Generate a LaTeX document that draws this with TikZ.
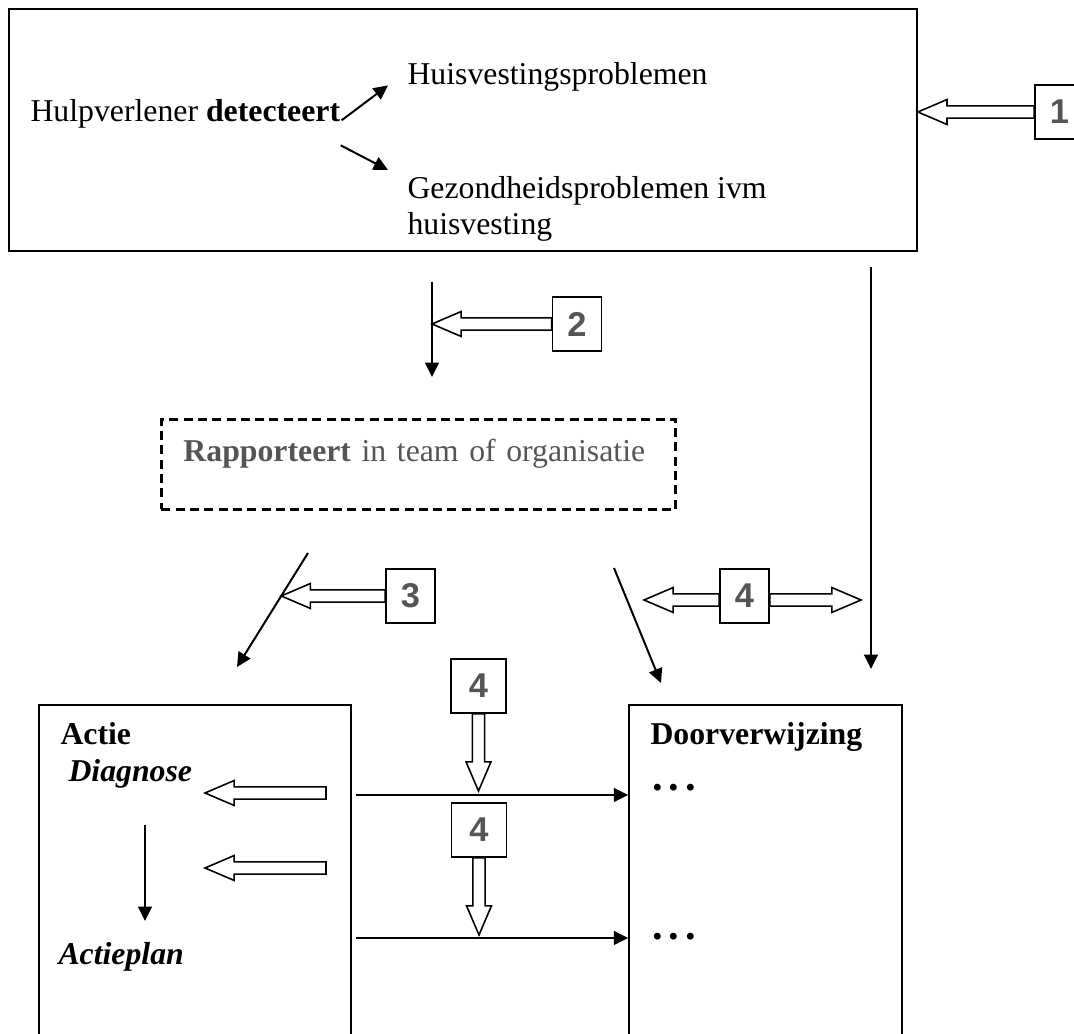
\documentclass[tikz,border=0pt]{standalone}
\usepackage{fontspec}
\setmainfont{Liberation Serif}
\setsansfont{Liberation Sans}
\usepackage{xcolor}
\usepackage{tikz}
\usetikzlibrary{positioning,arrows.meta,calc}

\definecolor{grijs}{HTML}{555555}
\newcommand{\holschacht}{2.3pt}
\newcommand{\holkop}{4.7pt}
\newcommand{\hollengte}{11pt}
\newcommand{\puntjes}{\textbf{\fontsize{16}{16}\selectfont.\kern2.2pt.\kern2.2pt.}}

\begin{document}
\begin{tikzpicture}[
  x=0.3777pt, y=-0.3777pt,
  >={Triangle[length=5.4pt,width=5.2pt]},
  tekst/.style={font=\fontsize{12}{13.4}\selectfont, inner sep=0pt},
  vak/.style={draw, line width=0.6pt, inner sep=0pt},
  nummer/.style={draw, line width=0.6pt, fill=white, minimum width=18.5pt, minimum height=20.4pt, inner sep=0pt,
      font=\sffamily\bfseries\fontsize{13}{13}\selectfont, text=grijs},
  pijl/.style={->, line width=0.75pt},
  hol/.style={line width=0.6pt, to path={
      -- ($(\tikztostart)!\holschacht!90:(\tikztotarget)$)
      -- ($(\tikztotarget)!\hollengte!(\tikztostart)!\holschacht!90:(\tikztotarget)$)
      -- ($(\tikztotarget)!\hollengte!(\tikztostart)!\holkop!90:(\tikztotarget)$)
      -- (\tikztotarget)
      -- ($(\tikztotarget)!\hollengte!(\tikztostart)!\holkop!-90:(\tikztotarget)$)
      -- ($(\tikztotarget)!\hollengte!(\tikztostart)!\holschacht!-90:(\tikztotarget)$)
      -- ($(\tikztostart)!\holschacht!-90:(\tikztotarget)$) -- cycle}},
]
  \useasboundingbox (0,0) rectangle (1074,1034);
  \clip (0,0) rectangle (1074,1034);

  % detectie
  \node (top-vak)[vak, minimum width=343pt, minimum height=91.4pt] at (463,130) {};
  \node (hulp)[tekst, anchor=base west] at (30,122) {Hulpverlener \textbf{detecteert}};
  \node (huis)[tekst, anchor=base west] at (407,85) {Huisvestingsproblemen};
  \node (gezond)[tekst, anchor=north west, align=left] at (407,176) {Gezondheidsproblemen ivm\\huisvesting};
  \draw[pijl] ([shift={(1,6)}]hulp.east) -- ([shift={(-19,8)}]huis.west);
  \draw[pijl] ([shift={(0,16)}]hulp.south east) -- ([shift={(-19,-6)}]gezond.north west);

  \node (nr-1)[nummer] at (1059.5,112) {1};
  \draw[hol] (nr-1.west) to (nr-1.west -| top-vak.east);

  % rapportering
  \node (rapport)[tekst, draw, line width=1.1pt, dash pattern=on 3.4pt off 2pt, anchor=north west, text=grijs,
      inner xsep=8.3pt, text height=15.9pt, text depth=18.1pt, text width=177.5pt, align=left] at (160,418)
      {\textbf{Rapporteert} in team of organisatie};
  \coordinate (k2) at (432,324);
  \draw[pijl, shorten <=11.3pt, shorten >=15.5pt] (top-vak.south -| k2) -- (rapport.north -| k2);
  \node (nr-2)[nummer] at (577,324) {2};
  \draw[hol] (nr-2.west) to (k2);

  \coordinate (rechts) at (871,669);
  \draw[pijl, shorten <=5.7pt] (top-vak.south -| rechts) -- (rechts);

  % naar actie en doorverwijzing
  \coordinate (s3a) at (308,553);
  \coordinate (s3b) at (237,667);
  \draw[pijl] (s3a) -- (s3b);
  \coordinate (k3) at ($(s3a)!0.377!(s3b)$);
  \node (nr-3)[nummer] at (410.5,596) {3};
  \draw[hol] (nr-3.west) to (k3);

  \coordinate (s4a) at (614,568);
  \coordinate (s4b) at (661,683);
  \draw[pijl] (s4a) -- (s4b);
  \node (nr-4c)[nummer] at (744.5,596) {4};
  \coordinate (k4l) at (644,600);
  \coordinate (k4r) at (861,600);
  \draw[hol] ([yshift=-1.5pt]nr-4c.west) to (k4l);
  \draw[hol] ([yshift=-1.5pt]nr-4c.east) to (k4r);

  % actie
  \node (actie)[vak, minimum width=117.8pt, minimum height=134.1pt] at (195,882.5) {};
  \node (actie-kop)[tekst, anchor=base west] at (60,745) {\textbf{Actie}};
  \node (diagnose)[tekst, anchor=base west] at (68,782) {\textbf{\textit{Diagnose}}};
  \node (actieplan)[tekst, anchor=base west] at (58,965) {\textbf{\textit{Actieplan}}};
  \coordinate (d1) at (145,825);
  \coordinate (d2) at (145,921);
  \draw[pijl] (d1) -- (d2);
  \coordinate (a1) at (326,793);
  \coordinate (a1t) at (205,793);
  \coordinate (a2) at (326,868);
  \coordinate (a2t) at (205,868);
  \draw[hol] (a1) to (a1t);
  \draw[hol] (a2) to (a2t);

  % doorverwijzing
  \node (door)[vak, minimum width=103.1pt, minimum height=134.1pt] at (765.5,882.5) {};
  \node (door-kop)[tekst, anchor=base west] at (650,745) {\textbf{Doorverwijzing}};
  \node (punt-1)[tekst, anchor=base west] at (652,791) {\puntjes};
  \node (punt-2)[tekst, anchor=base west] at (652,940) {\puntjes};

  \coordinate (h1) at (356,795);
  \coordinate (h2) at (356,938);
  \draw[pijl] (h1) -- (h1 -| door.west);
  \draw[pijl] (h2) -- (h2 -| door.west);

  \node (nr-4a)[nummer, minimum width=20.8pt] at (478.5,686) {4};
  \node (nr-4b)[nummer, minimum width=20.8pt] at (479,830) {4};
  \coordinate (t4a) at ($(nr-4a.south |- h1)+(0,-4)$);
  \coordinate (t4b) at ($(nr-4b.south |- h2)+(0,-3)$);
  \draw[hol] (nr-4a.south) to (t4a);
  \draw[hol] (nr-4b.south) to (t4b);
\end{tikzpicture}
\end{document}
